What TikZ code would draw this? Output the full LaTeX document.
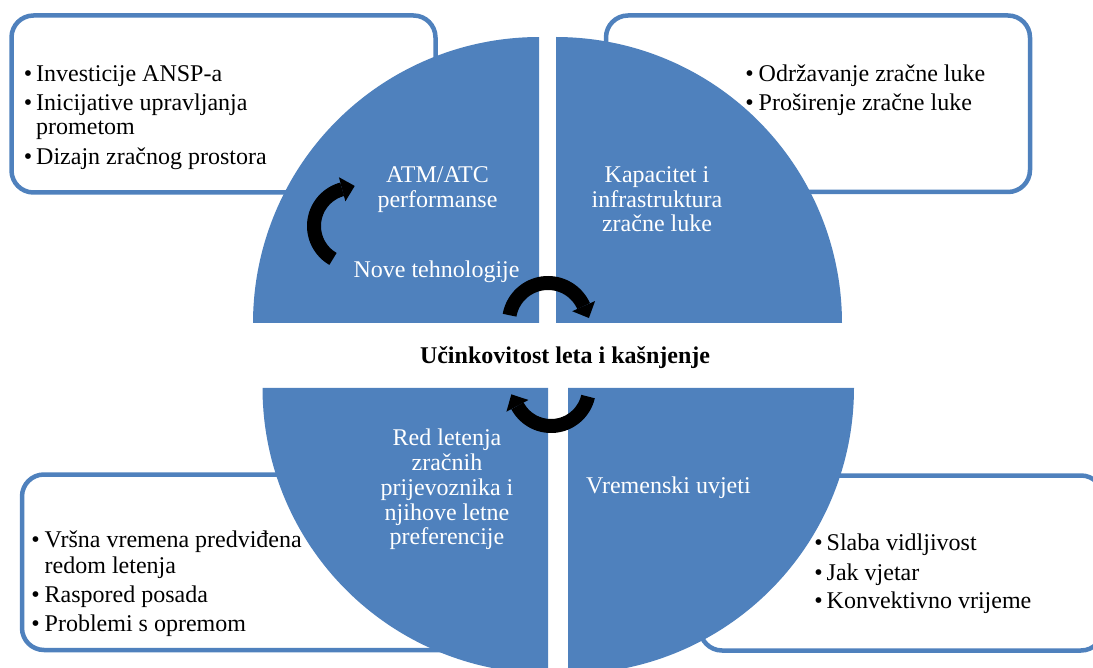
\documentclass[tikz,border=0pt]{standalone}
\usepackage{fontspec}
\setmainfont{Liberation Serif}
\definecolor{secblue}{RGB}{79,129,189}
% #1,#2 centre, #3 radius, #4 start angle, #5 angle of head base
\newcommand{\cyclearrow}[5]{%
  \draw[black,line width=14pt] plot[domain=#4:#5,samples=50] ({#1+#3*cos(\x)},{#2+#3*sin(\x)});
  \fill[black] ({#1+(#3+12.5)*cos(#5)},{#2+(#3+12.5)*sin(#5)})
    -- ({#1+(#3-12.5)*cos(#5)},{#2+(#3-12.5)*sin(#5)})
    -- ({#1+#3*cos(#5)-13*sin(#5)},{#2+#3*sin(#5)+13*cos(#5)}) -- cycle;
}
\begin{document}
\begin{tikzpicture}[x=1pt,y=-1pt,
  infobox/.style={draw=secblue,line width=4.5pt,rounded corners=22pt,fill=white},
  sector/.style={fill=secblue},
  txt/.style={inner sep=0pt,anchor=base west,font=\fontsize{24}{25}\selectfont},
  bul/.style={inner sep=0pt,anchor=base,font=\fontsize{24}{25}\selectfont},
  wtxt/.style={inner sep=0pt,anchor=base,text=white,font=\fontsize{24}{25}\selectfont}
]
\useasboundingbox (0,0) rectangle (1093,668);
\clip (0,0) rectangle (1093,668);

% boxes
\draw[infobox] (11.5,15.5) rectangle (435.5,192.5);
\draw[infobox] (606,15.5) rectangle (1030,192);
\draw[infobox] (22,474.5) rectangle (480,650);
\draw[infobox] (700,475.5) rectangle (1103,650.5);

% sectors
\fill[sector] (539,323) -- plot[domain=180:270,samples=80] ({539+286*cos(\x)},{323+286*sin(\x)}) -- cycle;
\fill[sector] (556,323) -- plot[domain=270:360,samples=80] ({556+286*cos(\x)},{323+286*sin(\x)}) -- cycle;
\fill[sector] (548,388) -- plot[domain=90:180,samples=80] ({548+285.5*cos(\x)},{388+285.5*sin(\x)}) -- cycle;
\fill[sector] (568,388) -- plot[domain=0:90,samples=80] ({568+286*cos(\x)},{388+286*sin(\x)}) -- cycle;

% top-left box text
\node[bul] (b1) at (28,82) {•};
\node[txt] (t1) at (36,82) {Investicije ANSP-a};
\node[bul] (b2) at (28,111) {•};
\node[txt] (t2) at (36,111) {Inicijative upravljanja};
\node[txt] (t2b) at (36,135) {prometom};
\node[bul] (b3) at (28,165) {•};
\node[txt] (t3) at (36,165) {Dizajn zračnog prostora};

% top-right box text
\node[bul] (b4) at (749.5,82) {•};
\node[txt] (t4) at (758.5,82) {Održavanje zračne luke};
\node[bul] (b5) at (749.5,111) {•};
\node[txt] (t5) at (758.5,111) {Proširenje zračne luke};

% bottom-left box text
\node[bul] (b6) at (35.5,547) {•};
\node[txt] (t6) at (44.5,547) {Vršna vremena predviđena};
\node[txt] (t6b) at (44.5,573) {redom letenja};
\node[bul] (b7) at (35.5,602) {•};
\node[txt] (t7) at (44.5,602) {Raspored posada};
\node[bul] (b8) at (35.5,631) {•};
\node[txt] (t8) at (44.5,631) {Problemi s opremom};

% bottom-right box text
\node[bul] (b9) at (818.5,550) {•};
\node[txt] (t9) at (826.5,550) {Slaba vidljivost};
\node[bul] (b10) at (818.5,580) {•};
\node[txt] (t10) at (826.5,580) {Jak vjetar};
\node[bul] (b11) at (818.5,608) {•};
\node[txt] (t11) at (826.5,608) {Konvektivno vrijeme};

% sector labels
\node[wtxt] (s1a) at (437.5,183) {ATM/ATC};
\node[wtxt] (s1b) at (437.5,208) {performanse};
\node[wtxt] (s1c) at (436.5,278) {Nove tehnologije};
\node[wtxt] (s2a) at (657,183) {Kapacitet i};
\node[wtxt] (s2b) at (657,208) {infrastruktura};
\node[wtxt] (s2c) at (657,232) {zračne luke};
\node[wtxt] (s3a) at (447,445) {Red letenja};
\node[wtxt] (s3b) at (447,470) {zračnih};
\node[wtxt] (s3c) at (447,495) {prijevoznika i};
\node[wtxt] (s3d) at (447,520) {njihove letne};
\node[wtxt] (s3e) at (447,544) {preferencije};
\node[txt,text=white] (s4) at (586,493) {Vremenski uvjeti};

% title
\node[bul,font=\fontsize{24}{25}\selectfont\bfseries] (title) at (565,363) {Učinkovitost leta i kašnjenje};

% cycle arrows
\cyclearrow{352}{226}{38}{120}{255}
\cyclearrow{548}{322}{39}{190}{336}
\cyclearrow{551}{388}{38}{13}{152}
\end{tikzpicture}
\end{document}
